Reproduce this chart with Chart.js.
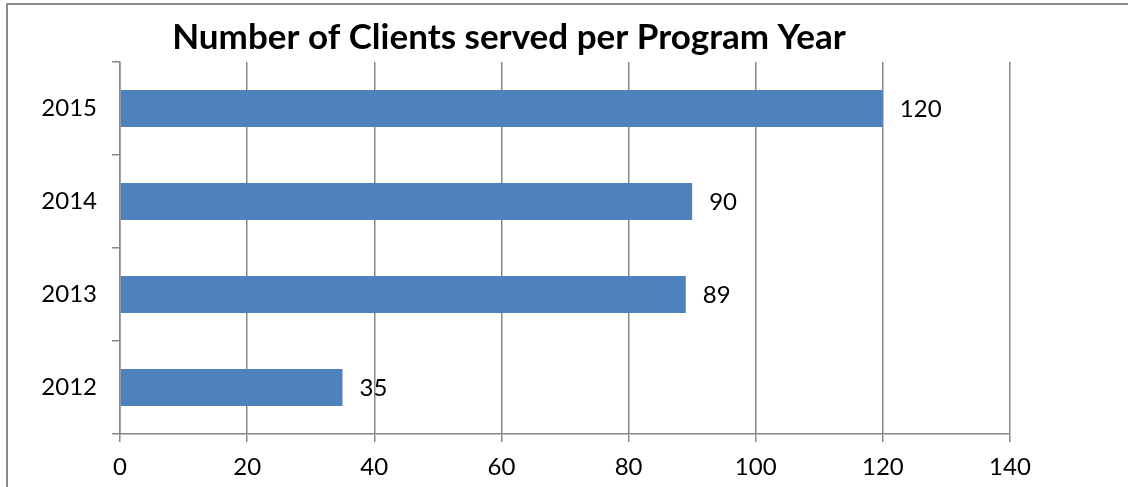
<!DOCTYPE html>
<html>
<head>
<meta charset="utf-8">
<script src="https://cdn.jsdelivr.net/npm/chart.js@4/dist/chart.umd.min.js"></script>
<style>
  body { margin: 0; background: #fff; }
  #frame {
    position: absolute; left: 6px; top: 3px;
    border-left: 2px solid #8a8a8a; border-top: 2px solid #8a8a8a;
  }
  canvas { display: block; }
</style>
</head>
<body>
<div id="frame"><canvas id="chart" width="1120" height="482"></canvas></div>
<script>
const years = ['2012', '2013', '2014', '2015'];
const clients = [35, 89, 90, 120];
const xTicks = [0, 20, 40, 60, 80, 100, 120, 140];

const GRID = '#878787';
const FONT = 'Lato, "Open Sans", sans-serif';

const valueLabels = {
  id: 'valueLabels',
  afterDatasetsDraw(chart) {
    const ctx = chart.ctx;
    const meta = chart.getDatasetMeta(0);
    ctx.save();
    ctx.font = '24px ' + FONT;
    ctx.fillStyle = '#000';
    ctx.textAlign = 'left';
    ctx.textBaseline = 'middle';
    meta.data.forEach((bar, i) => {
      ctx.fillText(String(clients[i]), bar.x + 17, bar.y + 1);
    });
    ctx.restore();
  }
};

new Chart(document.getElementById('chart'), {
  type: 'bar',
  data: {
    labels: years,
    datasets: [{
      data: clients,
      backgroundColor: '#4f81bd',
      borderWidth: 0,
      categoryPercentage: 1,
      barPercentage: 0.4,
    }]
  },
  plugins: [valueLabels],
  options: {
    indexAxis: 'y',
    responsive: false,
    animation: false,
    layout: { padding: { left: 0, right: 118, top: 0, bottom: 0 } },
    plugins: {
      legend: { display: false },
      tooltip: { enabled: false },
      title: {
        display: true,
        text: 'Number of Clients served per Program Year',
        color: '#000',
        font: { family: FONT, size: 35, weight: 'bold' },
        padding: { top: 12, bottom: 3 },
      },
    },
    scales: {
      x: {
        min: 0, max: 140,
        afterBuildTicks: s => { s.ticks = xTicks.map(v => ({ value: v })); },
        afterFit: s => { s.height = 53; s.paddingLeft = 0; s.paddingRight = 0; },
        ticks: { color: '#000', font: { family: FONT, size: 24 }, padding: 11 },
        grid: { color: GRID, lineWidth: 1.5, tickLength: 8 },
        border: { color: GRID, width: 1.5 },
      },
      y: {
        reverse: true,
        afterFit: s => { s.width = 112; },
        ticks: { color: '#000', font: { family: FONT, size: 24 }, padding: 15 },
        grid: { drawOnChartArea: false, color: GRID, lineWidth: 1.5, tickLength: 8, offset: true },
        border: { color: GRID, width: 1.5 },
      }
    }
  }
});
</script>
</body>
</html>
